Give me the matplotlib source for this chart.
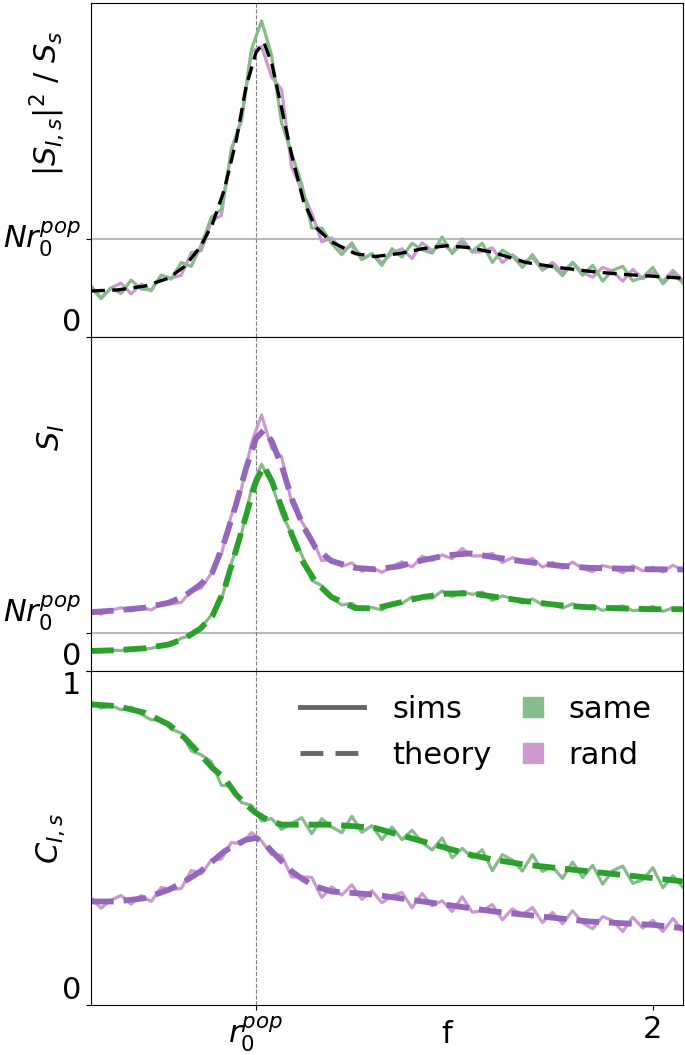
import matplotlib
matplotlib.use("Agg")
import matplotlib.pyplot as plt
from matplotlib.lines import Line2D
import numpy as np

# frequency axis (r0_pop = 1)
f_theory = [0.584, 0.65, 0.72, 0.78, 0.82, 0.86, 0.89, 0.92, 0.95, 0.975, 1.0, 1.02, 1.04, 1.065,
            1.09, 1.12, 1.15, 1.19, 1.25, 1.30, 1.36, 1.42, 1.48, 1.54, 1.60, 1.68, 1.76, 1.84,
            1.92, 2.0, 2.076]
f_sims = np.linspace(0.584, 2.076, 60)

# top panel: |S_Is|^2 / S_s  (units of N r0_pop)
top_theory = [0.47, 0.48, 0.52, 0.60, 0.72, 0.92, 1.15, 1.50, 2.00, 2.55, 2.90, 3.00, 2.78, 2.32,
              1.85, 1.38, 1.12, 0.97, 0.85, 0.82, 0.85, 0.90, 0.93, 0.91, 0.86, 0.76, 0.71, 0.67,
              0.64, 0.62, 0.60]
top_same_sims = [0.52, 0.40, 0.50, 0.445, 0.58, 0.49, 0.48, 0.63, 0.59, 0.76, 0.72, 0.94, 1.22, 1.30,
                 1.90, 2.22, 2.93, 3.22, 2.87, 2.18, 1.87, 1.56, 1.11, 1.11, 0.95, 0.84, 0.96, 0.79,
                 0.85, 0.73, 0.90, 0.815, 0.955, 0.89, 0.855, 1.02, 0.85, 0.96, 0.875, 0.955, 0.76,
                 0.885, 0.825, 0.71, 0.84, 0.695, 0.73, 0.625, 0.76, 0.63, 0.73, 0.57, 0.68, 0.72,
                 0.573, 0.607, 0.71, 0.543, 0.647, 0.55]
top_rand_sims = [0.51, 0.39, 0.50, 0.55, 0.44, 0.54, 0.47, 0.63, 0.60, 0.63, 0.86, 0.88, 1.18, 1.24,
                 1.92, 2.20, 2.91, 2.96, 2.65, 2.52, 1.73, 1.50, 1.26, 0.97, 1.01, 0.886, 0.93, 0.79,
                 0.85, 0.756, 0.85, 0.90, 0.80, 0.96, 0.88, 0.95, 0.87, 1.00, 0.865, 0.87, 0.91, 0.76,
                 0.84, 0.76, 0.81, 0.68, 0.76, 0.66, 0.76, 0.66, 0.61, 0.71, 0.67, 0.57, 0.69, 0.595,
                 0.66, 0.565, 0.68, 0.576]

# middle panel: S_I
mid_same_theory = [0.53, 0.55, 0.60, 0.70, 0.86, 1.12, 1.45, 2.15, 3.2, 4.1, 5.0, 5.4, 5.0, 4.3,
                   3.6, 2.85, 2.35, 1.95, 1.66, 1.65, 1.80, 1.95, 2.04, 2.05, 1.96, 1.84, 1.74, 1.68,
                   1.65, 1.63, 1.63]
mid_rand_theory = [1.55, 1.60, 1.67, 1.80, 1.98, 2.28, 2.6, 3.4, 4.4, 5.35, 6.13, 6.35, 6.05, 5.4,
                   4.55, 3.8, 3.25, 2.9, 2.72, 2.68, 2.76, 2.92, 3.05, 3.1, 3.0, 2.88, 2.78, 2.72,
                   2.7, 2.68, 2.68]
mid_same_sims = [0.546, 0.516, 0.553, 0.541, 0.599, 0.584, 0.595, 0.673, 0.696, 0.867, 0.936, 1.151,
                 1.477, 1.88, 2.85, 3.615, 4.81, 5.45, 4.95, 4.15, 3.62, 3.07, 2.39, 2.25, 1.93, 1.74,
                 1.785, 1.61, 1.675, 1.61, 1.80, 1.78, 1.955, 1.93, 1.92, 2.11, 1.96, 2.09, 2.02,
                 2.08, 1.86, 1.98, 1.91, 1.79, 1.90, 1.75, 1.76, 1.66, 1.77, 1.65, 1.73, 1.595,
                 1.685, 1.716, 1.59, 1.62, 1.70, 1.573, 1.663, 1.59]
mid_rand_sims = [1.585, 1.50, 1.60, 1.67, 1.58, 1.68, 1.61, 1.785, 1.77, 1.81, 2.11, 2.19, 2.58, 3.08,
                 4.11, 4.81, 6.01, 6.75, 5.87, 5.65, 4.43, 3.935, 3.51, 2.91, 2.945, 2.76, 2.85, 2.63,
                 2.73, 2.60, 2.75, 2.88, 2.74, 3.025, 2.92, 3.06, 2.96, 3.23, 3.03, 3.04, 3.10, 2.86,
                 2.99, 2.89, 2.97, 2.74, 2.86, 2.705, 2.87, 2.70, 2.62, 2.78, 2.72, 2.59, 2.775,
                 2.64, 2.74, 2.61, 2.79, 2.64]

# bottom panel: C_Is
bot_same_theory = [0.90, 0.895, 0.875, 0.84, 0.80, 0.75, 0.71, 0.68, 0.63, 0.60, 0.575, 0.56, 0.55,
                   0.54, 0.54, 0.54, 0.54, 0.54, 0.535, 0.53, 0.51, 0.49, 0.47, 0.45, 0.435, 0.42,
                   0.41, 0.40, 0.39, 0.38, 0.37]
bot_rand_theory = [0.31, 0.31, 0.32, 0.345, 0.37, 0.40, 0.43, 0.46, 0.48, 0.495, 0.50, 0.485, 0.46,
                   0.43, 0.40, 0.375, 0.355, 0.34, 0.335, 0.33, 0.32, 0.31, 0.30, 0.29, 0.28, 0.27,
                   0.26, 0.25, 0.245, 0.24, 0.23]
bot_same_sims = [0.906, 0.889, 0.897, 0.884, 0.892, 0.871, 0.854, 0.855, 0.826, 0.814, 0.761, 0.749,
                 0.728, 0.658, 0.655, 0.606, 0.598, 0.551, 0.558, 0.526, 0.543, 0.561, 0.513, 0.558,
                 0.533, 0.516, 0.565, 0.517, 0.537, 0.495, 0.533, 0.495, 0.523, 0.487, 0.464, 0.50,
                 0.441, 0.469, 0.441, 0.465, 0.402, 0.45, 0.434, 0.401, 0.45, 0.40, 0.414, 0.379,
                 0.428, 0.382, 0.418, 0.362, 0.402, 0.416, 0.364, 0.375, 0.411, 0.351, 0.387, 0.352]
bot_rand_sims = [0.32, 0.29, 0.314, 0.328, 0.302, 0.328, 0.31, 0.352, 0.346, 0.349, 0.403, 0.393,
                 0.434, 0.437, 0.487, 0.482, 0.516, 0.491, 0.451, 0.448, 0.383, 0.384, 0.382, 0.322,
                 0.354, 0.329, 0.36, 0.316, 0.342, 0.306, 0.327, 0.337, 0.291, 0.334, 0.297, 0.312,
                 0.28, 0.324, 0.278, 0.282, 0.301, 0.255, 0.288, 0.27, 0.292, 0.247, 0.277, 0.243,
                 0.282, 0.246, 0.228, 0.265, 0.252, 0.22, 0.263, 0.23, 0.254, 0.22, 0.259, 0.222]

same_light, rand_light = "#86bc8b", "#cc9acf"
same_dark, rand_dark = "#2ca02c", "#9467bd"
dash = (0, (3.9, 1.7))
sims_lw = 2.3

fig, axs = plt.subplots(3, 1, figsize=(6.85, 10.55), dpi=100, sharex=True)
fig.subplots_adjust(left=0.1328, right=0.997, top=0.997, bottom=0.0474, hspace=0)

# top
ax = axs[0]
ax.axhline(1, color="#bbbbbb", lw=1.5, zorder=0)
ax.plot(f_sims, top_rand_sims, color=rand_light, lw=sims_lw)
ax.plot(f_sims, top_same_sims, color=same_light, lw=sims_lw)
ax.plot(f_theory, top_theory, color="black", lw=2.4, ls=(0, (4.2, 2.2)))
ax.set_ylim(0, 3.40)
ax.set_yticks([0, 1], ["0", r"$Nr_0^{pop}$"])
ax.set_ylabel(r"$|S_{I,s}|^2$ / $S_s$", fontsize=22)
ax.yaxis.set_label_coords(-0.04, 0.70)

# middle
ax = axs[1]
ax.axhline(1, color="#bbbbbb", lw=1.5, zorder=0)
ax.plot(f_sims, mid_rand_sims, color=rand_light, lw=sims_lw)
ax.plot(f_theory, mid_rand_theory, color=rand_dark, lw=4.2, ls=dash)
ax.plot(f_sims, mid_same_sims, color=same_light, lw=sims_lw)
ax.plot(f_theory, mid_same_theory, color=same_dark, lw=4.2, ls=dash)
ax.set_ylim(0, 8.8)
ax.set_yticks([0, 1], ["0", r"$Nr_0^{pop}$"])
ax.set_ylabel(r"$S_I$", fontsize=22)
ax.yaxis.set_label_coords(-0.04, 0.70)

# bottom
ax = axs[2]
ax.plot(f_sims, bot_same_sims, color=same_light, lw=sims_lw)
ax.plot(f_theory, bot_same_theory, color=same_dark, lw=4.2, ls=dash)
ax.plot(f_sims, bot_rand_sims, color=rand_light, lw=sims_lw)
ax.plot(f_theory, bot_rand_theory, color=rand_dark, lw=4.2, ls=dash)
ax.set_ylim(0, 1)
ax.set_yticks([0, 1], ["0", "1"])
ax.set_ylabel(r"$C_{I,s}$", fontsize=22)
ax.yaxis.set_label_coords(-0.04, 0.50)
ax.set_xlim(0.584, 2.076)
ax.set_xticks([1.0, 2.0], [r"$r_0^{pop}$", "2"])
ax.set_xlabel("f", fontsize=22)
ax.xaxis.set_label_coords(0.60, -0.045)

line_handles = [Line2D([], [], color="#666666", lw=3.5),
                Line2D([], [], color="#666666", lw=3.5, ls=(0, (4.7, 2.5)))]
leg1 = ax.legend(line_handles, ["sims", "theory"], frameon=False, fontsize=22,
                 loc="upper left", bbox_to_anchor=(0.333, 0.965), borderaxespad=0,
                 handlelength=2.1, handletextpad=0.9, labelspacing=0.55)
ax.add_artist(leg1)
patch_handles = [Line2D([], [], color=same_light, marker="s", ls="none", markersize=14),
                 Line2D([], [], color=rand_light, marker="s", ls="none", markersize=14)]
ax.legend(patch_handles, ["same", "rand"], frameon=False, fontsize=22,
          loc="upper left", bbox_to_anchor=(0.706, 0.965), borderaxespad=0,
          handlelength=0.8, handletextpad=0.75, labelspacing=0.55)

for i, ax in enumerate(axs):
    ax.axvline(1.0, color="gray", ls="--", lw=0.8, zorder=0)
    ax.tick_params(labelsize=22)
    if i < 2:
        ax.tick_params(bottom=False)
    labs = ax.get_yticklabels()
    labs[0].set_va("bottom")
    if i == 0:
        labs[1].set_va("center")
    elif i == 1:
        labs[1].set_va("bottom")
    else:
        labs[1].set_va("top")

fig.savefig("out.png", dpi=100)
